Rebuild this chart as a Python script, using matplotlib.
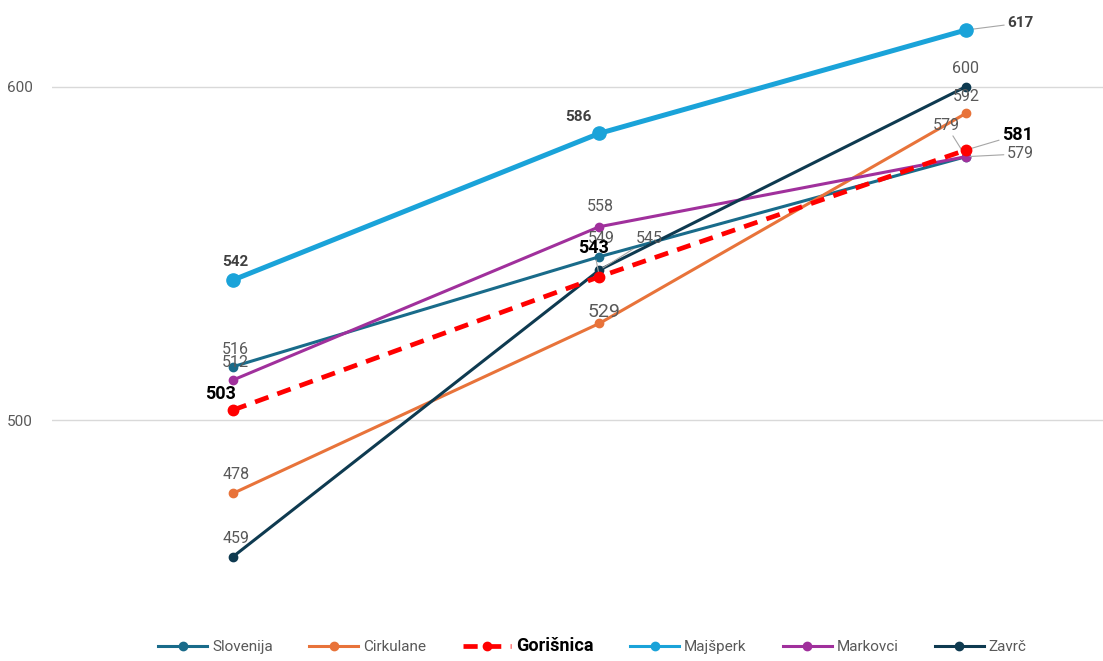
import numpy as np
import matplotlib.pyplot as plt

plt.rcParams['font.family'] = ['Roboto', 'DejaVu Sans']

periods = ['2015', '2018', '2022']
names = ['Slovenija', 'Cirkulane', 'Gorišnica', 'Majšperk', 'Markovci', 'Zavrč']
slovenija = [516, 549, 579]
cirkulane = [478, 529, 592]
gorisnica = [503, 543, 581]
majsperk = [542, 586, 617]
markovci = [512, 558, 579]
zavrc = [459, 545, 600]

series = [slovenija, cirkulane, gorisnica, majsperk, markovci, zavrc]
colors = ['#196b8a', '#e8733a', '#ff0000', '#1aa3d9', '#a0309c', '#0e3a50']

fig = plt.figure(figsize=(11.03, 6.61), dpi=100)
ax = fig.add_axes([0.047, 0.077, 0.953, 0.923])
x = np.arange(len(periods))

for name, vals, c in zip(names, series, colors):
    if name == 'Gorišnica':
        ax.plot(x, vals, color=c, lw=3.4, ls=(0, (3, 2)), marker='o', ms=7.5,
                label=name, zorder=5)
    elif name == 'Majšperk':
        ax.plot(x, vals, color=c, lw=3.6, marker='o', ms=9.5, label=name, zorder=4)
    else:
        ax.plot(x, vals, color=c, lw=2.2, marker='o', ms=6, label=name, zorder=3)

ax.set_xlim(-0.494, 2.374)
ax.set_ylim(443, 626)
ax.set_yticks([500, 600])
ax.set_xticks([])
ax.grid(axis='y', color='#d9d9d9', lw=1)
for s in ax.spines.values():
    s.set_visible(False)
ax.tick_params(axis='y', length=0, labelsize=11, labelcolor='#595959', pad=14)

gray = '#595959'
plain = dict(color=gray, fontsize=11.5, ha='center', va='bottom')
lead = dict(arrowstyle='-', color='#a6a6a6', lw=0.8, shrinkA=0, shrinkB=3)

def note(val, xi, dx, dy, **kw):
    ax.annotate(str(val), (xi, val), xytext=(dx, dy), textcoords='offset points', **kw)

# first period
note(majsperk[0], 0, 2, 8, color='#404040', fontsize=11, fontweight='bold', ha='center', va='bottom')
note(slovenija[0], 0, 2, 7, **plain)
note(markovci[0], 0, 2, 7, **plain)
note(gorisnica[0], 0, -9, 5, color='black', fontsize=13, fontweight='bold', ha='center', va='bottom')
note(cirkulane[0], 0, 2, 8, **plain)
note(zavrc[0], 0, 2, 8, **plain)

# second period
note(majsperk[1], 1, -15, 7, color='#404040', fontsize=11, fontweight='bold', ha='center', va='bottom')
note(markovci[1], 1, 1, 9, **plain)
note(slovenija[1], 1, 1, 8, **plain)
note(gorisnica[1], 1, -4, 14, color='black', fontsize=13, fontweight='bold',
     ha='center', va='bottom', arrowprops=lead)
note(zavrc[1], 1, 36, 17, color=gray, fontsize=11.5, ha='center', va='bottom', arrowprops=lead)
note(cirkulane[1], 1, 3, 2, color=gray, fontsize=14, ha='center', va='bottom')

# last period
note(majsperk[2], 2, 39, 5, color='#404040', fontsize=11, fontweight='bold',
     ha='center', va='center', arrowprops=lead)
note(zavrc[2], 2, 0, 8, **plain)
note(cirkulane[2], 2, 0, 7, **plain)
note(slovenija[2], 2, -14, 17, color=gray, fontsize=11.5, ha='center', va='bottom', arrowprops=lead)
note(gorisnica[2], 2, 37, 11, color='black', fontsize=13, fontweight='bold',
     ha='center', va='center', arrowprops=lead)
note(markovci[2], 2, 39, 2, color=gray, fontsize=11.5, ha='center', va='center', arrowprops=lead)

leg = fig.legend(loc='lower center', bbox_to_anchor=(0.537, -0.012), ncol=6, frameon=False,
                 fontsize=11, handlelength=3.2, columnspacing=2.4, handletextpad=0.3)
for h in leg.legend_handles:
    h.set_markersize(6)
    if h.get_color() == '#1aa3d9':
        h.set_linewidth(2.2)
for t in leg.get_texts():
    t.set_color(gray)
    if t.get_text() == 'Gorišnica':
        t.set_color('black')
        t.set_fontweight('bold')
        t.set_fontsize(13)

fig.savefig('out.png', dpi=100)
